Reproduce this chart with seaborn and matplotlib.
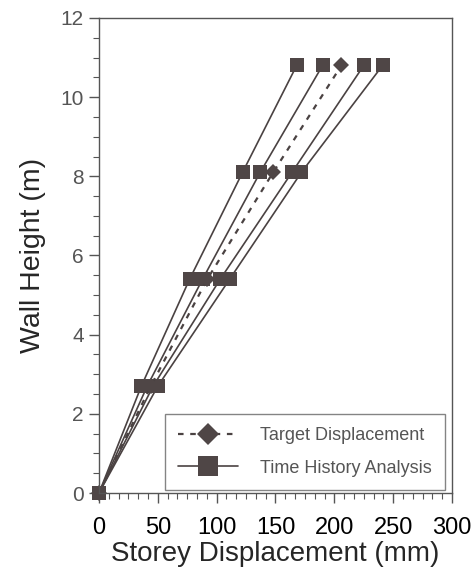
import matplotlib
matplotlib.use("Agg")
import matplotlib.pyplot as plt
import numpy as np
import pandas as pd
import seaborn as sns
from matplotlib.ticker import MultipleLocator
from matplotlib.lines import Line2D

# ── Dados ────────────────────────────────────────────────
heights = [0, 2.7, 5.4, 8.1, 10.8]  # m
target_disp = [0, 44, 92, 148, 206]  # mm
tha_1 = [0, 36, 77, 122, 168]
tha_2 = [0, 41, 88, 137, 190]
tha_3 = [0, 46, 103, 164, 225]
tha_4 = [0, 50, 111, 172, 241]
tha_runs = [tha_1, tha_2, tha_3, tha_4]

labels = ["Target Displacement", "Time History Analysis"]

LINE = "#4a4242"
FACE = "#4f4646"

sns.set_style("ticks")
plt.rcParams["font.family"] = ["Liberation Sans", "DejaVu Sans"]

fig = plt.figure(figsize=(4.77, 5.71), dpi=100)
ax = fig.add_axes([0.2075, 0.1366, 0.7401, 0.8319])

for run in tha_runs:
    sns.lineplot(
        x=run, y=heights, ax=ax, sort=False, estimator=None,
        color=LINE, lw=1.2, marker="s", markersize=10,
        markerfacecolor=FACE, markeredgewidth=0, clip_on=False,
    )

sns.lineplot(
    x=target_disp, y=heights, ax=ax, sort=False, estimator=None,
    color=LINE, lw=1.6, linestyle=(0, (2.5, 3)), marker="D", markersize=8,
    markerfacecolor=FACE, markeredgewidth=0, clip_on=False,
)

ax.set_xlim(0, 300)
ax.set_ylim(0, 12)
ax.xaxis.set_major_locator(MultipleLocator(50))
ax.xaxis.set_minor_locator(MultipleLocator(50 / 6))
ax.yaxis.set_major_locator(MultipleLocator(2))
ax.yaxis.set_minor_locator(MultipleLocator(0.5))

ax.tick_params(axis="both", which="major", direction="out", length=7,
               width=1, color="#555555")
ax.tick_params(axis="both", which="minor", direction="out", length=4,
               width=0.8, color="#555555")
ax.tick_params(axis="x", labelsize=17, labelcolor="black", pad=10)
ax.tick_params(axis="y", labelsize=15, labelcolor="#555555", pad=4)

for side in ["top", "right", "left", "bottom"]:
    ax.spines[side].set_visible(True)
    ax.spines[side].set_color("#555555")
    ax.spines[side].set_linewidth(1.0)

ax.set_xlabel("Storey Displacement (mm)", fontsize=20, labelpad=2)
ax.set_ylabel("Wall Height (m)", fontsize=20.5, labelpad=10)

handles = [
    Line2D([], [], color=LINE, lw=1.6, linestyle=(0, (2.5, 3)), marker="D",
           markersize=11, markerfacecolor=FACE, markeredgewidth=0),
    Line2D([], [], color=LINE, lw=1.2, marker="s", markersize=14,
           markerfacecolor=FACE, markeredgewidth=0),
]
leg = ax.legend(
    handles, labels, loc="lower right", bbox_to_anchor=(0.98, 0.006),
    borderaxespad=0, fontsize=13, frameon=True, fancybox=False,
    edgecolor="#666666", handlelength=3.3, handletextpad=1.2,
    labelspacing=0.85, borderpad=0.75,
)
leg.get_frame().set_linewidth(1.0)
for t in leg.get_texts():
    t.set_color("#555555")

plt.savefig("out.png", dpi=100)
